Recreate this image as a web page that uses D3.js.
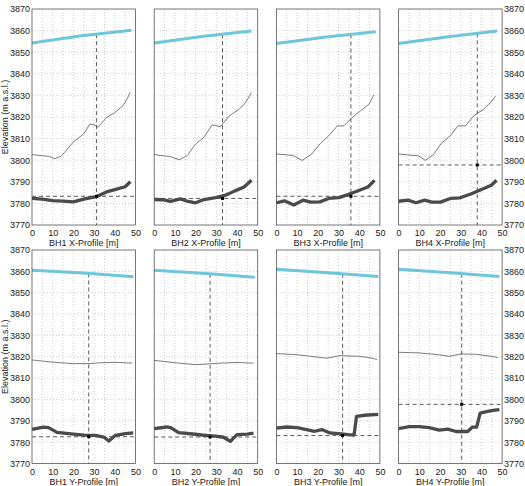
<!doctype html>
<html lang="en">
<head>
<meta charset="UTF-8">
<script src="https://d3js.org/d3.v7.min.js"></script>
<style>
    body { margin: 0; background: #fff; }
    text { font-family: "Liberation Sans", Arial, sans-serif; fill: #222; }
    .grid line { stroke: #c0c0c0; stroke-dasharray: 1,2; stroke-width: 0.8; }
</style>
</head>
<body>
<svg id="svg1" width="525" height="486"></svg>
<script>
// profile titles
var titles = ["BH1 X-Profile [m]", "BH2 X-Profile [m]", "BH3 X-Profile [m]", "BH4 X-Profile [m]",
              "BH1 Y-Profile [m]", "BH2 Y-Profile [m]", "BH3 Y-Profile [m]", "BH4 Y-Profile [m]"];

var xTicks = [0, 10, 20, 30, 40, 50];
var yTicks = [3770, 3780, 3790, 3800, 3810, 3820, 3830, 3840, 3850, 3860, 3870];

// ice surface (blue)
var iceSurface = [
    [[0, 3854.3], [24, 3857.6], [48, 3860.2]],
    [[0, 3854.3], [24, 3857.4], [47, 3859.8]],
    [[0, 3854], [24, 3857], [48, 3859.5]],
    [[0, 3854], [24, 3857.2], [47.6, 3859.8]],
    [[0, 3860.5], [25, 3859.2], [49, 3857.5]],
    [[0, 3860.5], [25, 3859], [48.5, 3857.2]],
    [[0, 3861], [25, 3859.4], [49.2, 3857.6]],
    [[0, 3861], [25, 3859.3], [48.7, 3857.6]]
];

// thin line
var bedModel = [
    [[0, 3802.6], [5, 3802.1], [8, 3801.8], [11, 3800.7], [14, 3801.8], [17, 3805], [20, 3808.5], [25, 3812.2], [28, 3816.8], [30, 3816.3], [32, 3815.3], [36, 3819.8], [40, 3822], [44, 3825.3], [46, 3828.5], [47.5, 3831.5]],
    [[0, 3802.6], [5, 3802], [8, 3801.6], [12, 3800.2], [16, 3802.2], [20, 3807.5], [24, 3810.6], [28, 3816.4], [32, 3815.5], [36, 3820.3], [41, 3823.6], [44, 3826.5], [47, 3831.3]],
    [[0, 3802.9], [8, 3802.2], [12.4, 3799.9], [16.8, 3802.6], [21.3, 3807.8], [25.3, 3811.3], [29.4, 3815.9], [32.6, 3815.9], [36.6, 3819.8], [40.6, 3822.8], [44.7, 3825.9], [47.1, 3830.2]],
    [[0, 3802.9], [5, 3802.4], [9.7, 3802], [12.9, 3799.9], [16.9, 3802.6], [20.6, 3807.8], [25, 3811.3], [28.7, 3815.9], [32.3, 3815.9], [36.3, 3820.5], [41, 3823.6], [44.8, 3827.1], [46.8, 3829.7]],
    [[0, 3818.5], [5, 3818], [10.5, 3817.4], [20, 3816.8], [28, 3816.8], [31.5, 3817.1], [40, 3817.4], [48.4, 3817]],
    [[0, 3818.3], [10, 3817.2], [20, 3816.3], [25, 3816.6], [30, 3816.9], [40, 3817.3], [48, 3817]],
    [[0, 3821.5], [10.5, 3820.9], [20.2, 3819.8], [24.2, 3819.3], [30.6, 3820.5], [40, 3820.2], [45, 3819.6], [48.7, 3818.7]],
    [[0, 3822.1], [10, 3821.8], [19.7, 3820.9], [24.5, 3820.2], [30.2, 3821.3], [37, 3821.2], [45, 3820.2], [48, 3819.6]]
];

// thick line
var bedRadar = [
    [[0, 3782.3], [5, 3782], [10, 3781.3], [15, 3781.1], [20, 3780.7], [25, 3782], [31, 3783.1], [36, 3785.3], [40, 3786.4], [45, 3787.7], [47.5, 3790]],
    [[0, 3781.8], [4, 3781.7], [7.9, 3780.9], [12.7, 3782.1], [16, 3781], [20, 3780.3], [24, 3781.8], [29.7, 3782.7], [34.5, 3783.8], [39, 3785.8], [43.4, 3787.6], [47, 3790.7]],
    [[0, 3780.3], [3.9, 3781.2], [8.4, 3779.3], [12.9, 3781.5], [16.5, 3780.6], [21, 3780.7], [25.3, 3782.3], [30.2, 3782.7], [35, 3784.2], [39.8, 3786], [44.2, 3787.6], [47.4, 3790.7]],
    [[0, 3781], [4.5, 3781.5], [8.4, 3780.3], [12.6, 3781.5], [16, 3780.6], [20.2, 3780.6], [25, 3782.3], [29.8, 3782.6], [35.2, 3784.5], [40, 3786.4], [44.8, 3788.4], [47.3, 3790.7]],
    [[0, 3786], [5.6, 3787], [8, 3786.8], [12.1, 3784.6], [20, 3783.8], [25, 3783.3], [30.6, 3783.2], [34.7, 3782.4], [37.1, 3780.5], [40.3, 3783.2], [45.2, 3784], [48.9, 3784.3]],
    [[0, 3786.3], [6.1, 3787.1], [8, 3786.8], [11.8, 3784.5], [19.8, 3783.7], [24.7, 3783.2], [29.5, 3782.8], [33.5, 3782.3], [36.8, 3780.4], [40, 3783.5], [45, 3783.8], [48, 3784.2]],
    [[0, 3786.6], [4.8, 3787.1], [10, 3786.8], [14.5, 3785.9], [18.5, 3785.1], [22, 3785.9], [25.8, 3784.3], [30, 3784], [34.7, 3783.5], [37.5, 3783.3], [38.7, 3792.1], [42.7, 3792.6], [49.2, 3793]],
    [[0, 3786.3], [5.2, 3787.3], [10, 3787.3], [14.8, 3786.8], [19.7, 3785.6], [23.7, 3786.1], [27.7, 3785], [33.4, 3785], [35.5, 3787], [37.7, 3787.1], [39.4, 3793.6], [42, 3794.2], [45.5, 3794.9], [48.7, 3795.2]]
];

// borehole position and depth
var bhDist = [31.2, 33, 36, 38, 27.4, 27, 32, 30.5];
var bhElev = [3783.3, 3782.3, 3783.3, 3797.8, 3782.5, 3782.4, 3783.1, 3797.7];

var svg = d3.select("#svg1");
var pw = 103.5, step = 122.2;
var rows = [{top: 9, bottom: 225}, {top: 250, bottom: 463.5}];

function surfaceAt(pts, x) {
    for (var i = 1; i < pts.length; i++) {
        if (x <= pts[i][0]) {
            var t = (x - pts[i - 1][0]) / (pts[i][0] - pts[i - 1][0]);
            return pts[i - 1][1] + t * (pts[i][1] - pts[i - 1][1]);
        }
    }
    return pts[pts.length - 1][1];
}

titles.forEach(function (title, k) {
    var row = Math.floor(k / 4), col = k % 4;
    var left = 32 + col * step;
    var r = rows[row];

    var xScale = d3.scaleLinear().domain([0, 50]).range([0, pw]);
    var yScale = d3.scaleLinear().domain([3770, 3870]).range([r.bottom - r.top, 0]);
    var h = r.bottom - r.top;

    var g = svg.append("g").attr("transform", "translate(" + left + "," + r.top + ")");

    // dotted grid
    var grid = g.append("g").attr("class", "grid");
    grid.selectAll(".gx").data(d3.range(5, 50, 5)).enter().append("line")
        .attr("x1", function (d) { return xScale(d); })
        .attr("x2", function (d) { return xScale(d); })
        .attr("y1", 0).attr("y2", h);
    grid.selectAll(".gy").data(yTicks.slice(1, -1)).enter().append("line")
        .attr("y1", function (d) { return yScale(d); })
        .attr("y2", function (d) { return yScale(d); })
        .attr("x1", 0).attr("x2", pw);

    var line = d3.line()
        .x(function (d) { return xScale(d[0]); })
        .y(function (d) { return yScale(d[1]); });

    // borehole dashed lines
    var sx = bhDist[k];
    g.append("line")
        .attr("x1", xScale(sx)).attr("x2", xScale(sx))
        .attr("y1", yScale(surfaceAt(iceSurface[k], sx))).attr("y2", h)
        .attr("stroke", "#333").attr("stroke-width", 0.8).attr("stroke-dasharray", "4,3");
    g.append("line")
        .attr("x1", 0).attr("x2", pw)
        .attr("y1", yScale(bhElev[k])).attr("y2", yScale(bhElev[k]))
        .attr("stroke", "#333").attr("stroke-width", 0.8).attr("stroke-dasharray", "4,3");

    g.append("path").datum(iceSurface[k]).attr("d", line)
        .attr("fill", "none").attr("stroke", "#6ec6db").attr("stroke-width", 3);
    g.append("path").datum(bedModel[k]).attr("d", line)
        .attr("fill", "none").attr("stroke", "#444").attr("stroke-width", 0.7);
    g.append("path").datum(bedRadar[k]).attr("d", line)
        .attr("fill", "none").attr("stroke", "#4a4a4a").attr("stroke-width", 3.3)
        .attr("stroke-linejoin", "round");

    g.append("rect")
        .attr("x", xScale(sx) - 1.5).attr("y", yScale(bhElev[k]) - 1.5)
        .attr("width", 3).attr("height", 3).attr("fill", "#000");

    // box
    g.append("rect").attr("width", pw).attr("height", h)
        .attr("fill", "none").attr("stroke", "#555").attr("stroke-width", 0.8);

    // x axis
    var xAxis = d3.axisBottom(xScale).tickValues(xTicks).tickSize(0).tickPadding(5);
    var xa = g.append("g").attr("transform", "translate(0," + h + ")").call(xAxis);
    xa.select(".domain").remove();
    xa.selectAll("text").style("font-size", "9px").style("font-family", "Liberation Sans, Arial, sans-serif").attr("fill", "#222");

    g.append("text")
        .attr("x", pw / 2).attr("y", h + 21)
        .attr("text-anchor", "middle")
        .style("font-size", "9px")
        .text(title);

    if (col === 0) {
        var ya = g.append("g").call(d3.axisLeft(yScale).tickValues(yTicks).tickSize(0).tickPadding(2).tickFormat(d3.format("d")));
        ya.select(".domain").remove();
        ya.selectAll("text").style("font-size", "9px").style("font-family", "Liberation Sans, Arial, sans-serif").attr("fill", "#222");
        g.append("text")
            .attr("transform", "translate(-24," + (h / 2) + ") rotate(-90)")
            .attr("text-anchor", "middle")
            .style("font-size", "9px")
            .text("Elevation (m a.s.l.)");
    }
    if (col === 3) {
        var yr = g.append("g").attr("transform", "translate(" + pw + ",0)")
            .call(d3.axisRight(yScale).tickValues(yTicks).tickSize(0).tickPadding(2).tickFormat(d3.format("d")));
        yr.select(".domain").remove();
        yr.selectAll("text").style("font-size", "9px").style("font-family", "Liberation Sans, Arial, sans-serif").attr("fill", "#222");
    }
});
</script>
</body>
</html>
